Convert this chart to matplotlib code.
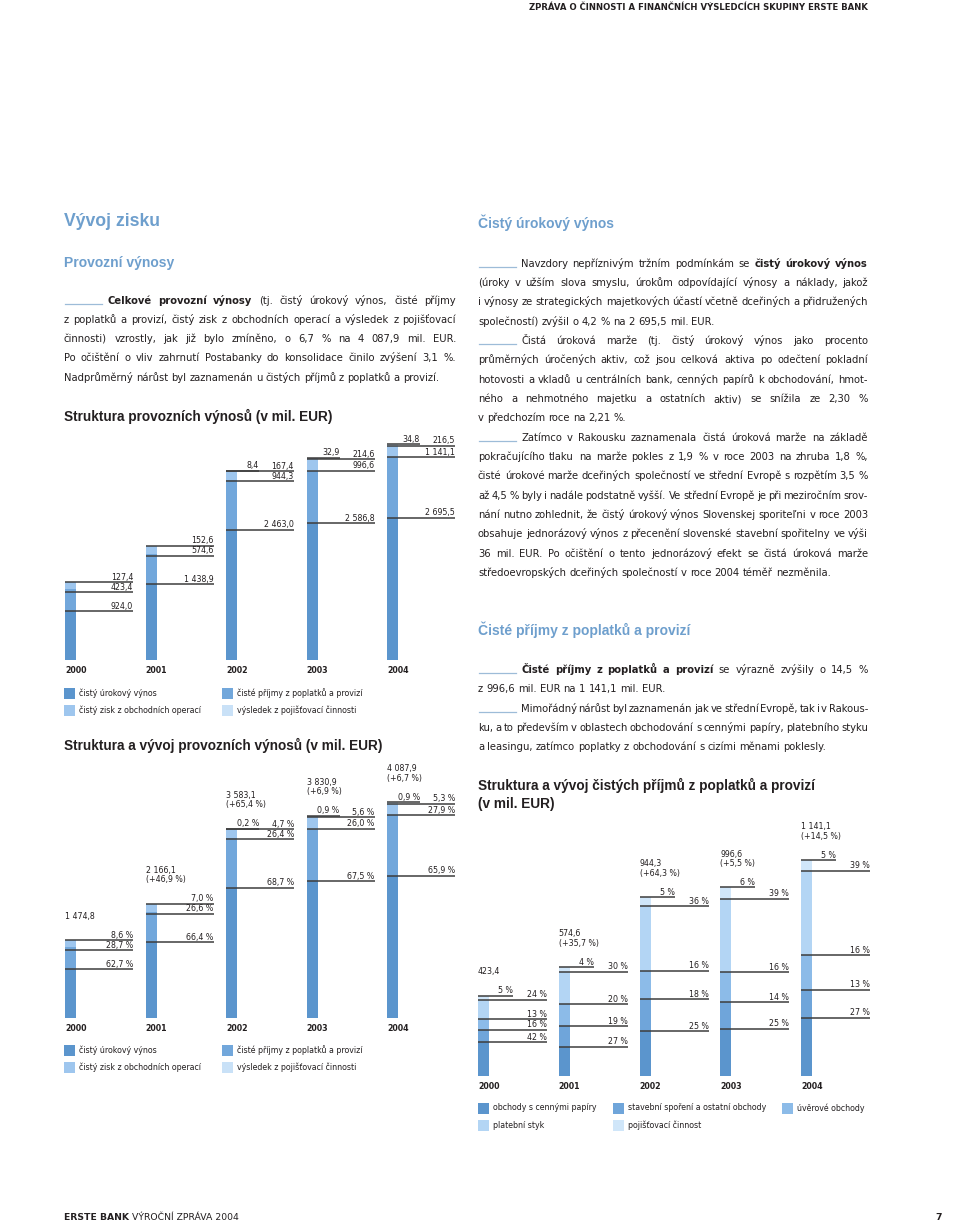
import matplotlib
matplotlib.use('Agg')
import matplotlib.pyplot as plt
from matplotlib import font_manager
from matplotlib.lines import Line2D
from matplotlib.patches import Rectangle

# --- data -------------------------------------------------------------
years = ['2000', '2001', '2002', '2003', '2004']

# Struktura provozních výnosů (mil. EUR)
interest = [924.0, 1438.9, 2463.0, 2586.8, 2695.5]
fees = [423.4, 574.6, 944.3, 996.6, 1141.1]
trading = [127.4, 152.6, 167.4, 214.6, 216.5]
insurance = [0.0, 0.0, 8.4, 32.9, 34.8]
totals = [1474.8, 2166.1, 3583.1, 3830.9, 4087.9]
growth = [None, 46.9, 65.4, 6.9, 6.7]

# shares in %
pct_int = [62.7, 66.4, 68.7, 67.5, 65.9]
pct_fee = [28.7, 26.6, 26.4, 26.0, 27.9]
pct_trd = [8.6, 7.0, 4.7, 5.6, 5.3]
pct_ins = [None, None, 0.2, 0.9, 0.9]

# fee income structure
fee_totals = [423.4, 574.6, 944.3, 996.6, 1141.1]
fee_growth = [None, 35.7, 64.3, 5.5, 14.5]
p_sec = [42, 27, 25, 25, 27]
p_bld = [16, 19, 18, 14, 13]
p_loan = [13, 20, 16, 16, 16]
p_pay = [24, 30, 36, 39, 39]
p_ins = [5, 4, 5, 6, 5]

# --- setup ------------------------------------------------------------
W, H = 960, 1223
fig = plt.figure(figsize=(9.6, 12.23), dpi=100)
r = fig.canvas.get_renderer()

names = {f.name for f in font_manager.fontManager.ttflist}
BODY = 'Liberation Sans Narrow' if 'Liberation Sans Narrow' in names else 'DejaVu Sans'
HEAD = 'Liberation Sans'
INK = '#231f20'
BLUE = '#6e9fcd'
LINE = '#3d3d3d'
RULE = '#9dbcd8'

C1 = '#5b95cd'
C2 = '#72a7db'
C3 = '#9ec6ee'
C4 = '#c9e1f7'
F1, F2, F3, F4, F5 = '#5b95cd', '#6fa5da', '#8cbbe8', '#b3d5f4', '#d0e6f9'


def fx(x):
    return x / W


def fy(y):
    return 1 - y / H


def width(s, size, weight='normal', family=BODY):
    t = fig.text(0, 0, s, fontsize=size, fontweight=weight, family=family)
    w = t.get_window_extent(r).width
    t.remove()
    return w


def fit(s, target, weight='normal', family=BODY):
    return 10 * target / width(s, 10, weight, family)


def cz(v):
    return f'{v:,.1f}'.replace(',', ' ').replace('.', ',')


def pc(v):
    return f'{v:.1f} %'.replace('.', ',')


BS = fit('Nadprůměrný nárůst byl zaznamenán u čistých příjmů z poplatků a provizí.', 377)
LS = fit('čistý zisk z obchodních operací', 122.7)
SPACE = width('n n', BS) - width('nn', BS)


def jline(x0, x1, yc, s, justify=True):
    toks = []
    for k, part in enumerate(s.split('**')):
        for w in part.split():
            toks.append((w, k % 2 == 1))
    arts, ws = [], []
    for w, b in toks:
        t = fig.text(0, fy(yc + 4), w, fontsize=BS, family=BODY, color=INK,
                     fontweight='bold' if b else 'normal', va='baseline', ha='left')
        arts.append(t)
        ws.append(t.get_window_extent(r).width)
    gap = SPACE
    if justify and len(toks) > 1:
        gap = (x1 - x0 - sum(ws)) / (len(toks) - 1)
    x = x0
    for t, w in zip(arts, ws):
        t.set_x(fx(x))
        x += w + gap


def para(x0, x1, y0, paragraphs):
    y = y0
    for lines in paragraphs:
        for k, s in enumerate(lines):
            start = x0
            if k == 0:
                fig.add_artist(Line2D([fx(x0 + 1), fx(x0 + 38)], [fy(y + 4), fy(y + 4)],
                                      color=RULE, lw=0.9))
                start = x0 + 43
            jline(start, x1, y, s, justify=k < len(lines) - 1)
            y += 19.33


# --- page text ----------------------------------------------------------
hs = fit('ZPRÁVA O ČINNOSTI A FINANČNÍCH VÝSLEDCÍCH SKUPINY ERSTE BANK', 340, 'bold')
fig.text(fx(868), fy(8), 'ZPRÁVA O ČINNOSTI A FINANČNÍCH VÝSLEDCÍCH SKUPINY ERSTE BANK',
         fontsize=hs, family=BODY, fontweight='bold', ha='right', va='center', color=INK)

h1 = fit('Vývoj zisku', 96, 'bold', HEAD)
fig.text(fx(64), fy(222), 'Vývoj zisku', fontsize=h1, family=HEAD, fontweight='bold',
         color=BLUE, va='center')
h2 = fit('Čisté příjmy z poplatků a provizí', 212, 'bold', HEAD)
for x, y, s in [(64, 263, 'Provozní výnosy'), (478, 223, 'Čistý úrokový výnos'),
                (478, 630, 'Čisté příjmy z poplatků a provizí')]:
    fig.text(fx(x), fy(y), s, fontsize=h2, family=HEAD, fontweight='bold', color=BLUE, va='center')

ts = fit('Struktura provozních výnosů (v mil. EUR)', 269, 'bold', HEAD)
for x, y, s in [(64, 416, 'Struktura provozních výnosů (v mil. EUR)'),
                (64, 745, 'Struktura a vývoj provozních výnosů (v mil. EUR)'),
                (478, 785, 'Struktura a vývoj čistých příjmů z poplatků a provizí'),
                (478, 804, '(v mil. EUR)')]:
    fig.text(fx(x), fy(y), s, fontsize=ts, family=HEAD, fontweight='bold', color=INK, va='center')

para(64, 456, 299.5, [[
    '**Celkové provozní výnosy** (tj. čistý úrokový výnos, čisté příjmy',
    'z poplatků a provizí, čistý zisk z obchodních operací a výsledek z pojišťovací',
    'činnosti) vzrostly, jak již bylo zmíněno, o 6,7 % na 4 087,9 mil. EUR.',
    'Po očištění o vliv zahrnutí Postabanky do konsolidace činilo zvýšení 3,1 %.',
    'Nadprůměrný nárůst byl zaznamenán u čistých příjmů z poplatků a provizí.']])

para(478, 868, 262.7, [
    ['Navzdory nepříznivým tržním podmínkám se **čistý úrokový výnos**',
     '(úroky v užším slova smyslu, úrokům odpovídající výnosy a náklady, jakož',
     'i výnosy ze strategických majetkových účastí včetně dceřiných a přidružených',
     'společností) zvýšil o 4,2 % na 2 695,5 mil. EUR.'],
    ['Čistá úroková marže (tj. čistý úrokový výnos jako procento',
     'průměrných úročených aktiv, což jsou celková aktiva po odečtení pokladní',
     'hotovosti a vkladů u centrálních bank, cenných papírů k obchodování, hmot-',
     'ného a nehmotného majetku a ostatních aktiv) se snížila ze 2,30 %',
     'v předchozím roce na 2,21 %.'],
    ['Zatímco v Rakousku zaznamenala čistá úroková marže na základě',
     'pokračujícího tlaku na marže pokles z 1,9 % v roce 2003 na zhruba 1,8 %,',
     'čisté úrokové marže dceřiných společností ve střední Evropě s rozpětím 3,5 %',
     'až 4,5 % byly i nadále podstatně vyšší. Ve střední Evropě je při meziročním srov-',
     'nání nutno zohlednit, že čistý úrokový výnos Slovenskej sporiteľni v roce 2003',
     'obsahuje jednorázový výnos z přecenění slovenské stavební spořitelny ve výši',
     '36 mil. EUR. Po očištění o tento jednorázový efekt se čistá úroková marže',
     'středoevropských dceřiných společností v roce 2004 téměř nezměnila.']])

para(478, 868, 669, [
    ['**Čisté příjmy z poplatků a provizí** se výrazně zvýšily o 14,5 %',
     'z 996,6 mil. EUR na 1 141,1 mil. EUR.'],
    ['Mimořádný nárůst byl zaznamenán jak ve střední Evropě, tak i v Rakous-',
     'ku, a to především v oblastech obchodování s cennými papíry, platebního styku',
     'a leasingu, zatímco poplatky z obchodování s cizími měnami poklesly.']])

fs = fit('ERSTE BANK VÝROČNÍ ZPRÁVA 2004', 168)
t = fig.text(fx(64), fy(1217), 'ERSTE BANK', fontsize=fs, family=BODY, fontweight='bold',
             color=INK, va='center')
wb = t.get_window_extent(r).width
fig.text(fx(64 + wb + SPACE * fs / BS), fy(1217), 'VÝROČNÍ ZPRÁVA 2004', fontsize=fs,
         family=BODY, color=INK, va='center')
fig.text(fx(942), fy(1217), '7', fontsize=fs, family=BODY, fontweight='bold', color=INK,
         ha='right', va='center')


# --- charts -------------------------------------------------------------
def stack(box, c0, step, top_px, top_val, series, colors, labels, long_px, short_px,
          tot=None, grow=None):
    left, top, right, bottom = box
    scale = top_px / top_val
    ax = fig.add_axes([fx(left), fy(bottom), (right - left) / W, (bottom - top) / H])
    ax.set_xlim((left - c0) / step, (right - c0) / step)
    ax.set_ylim(0, (bottom - top) / scale)
    ax.axis('off')
    bw = 11 / step
    Lg, Ls = long_px / step, short_px / step
    gap = 10 / scale
    for i in range(len(years)):
        x0 = i - bw / 2
        base, tops = 0, []
        for vals, col in zip(series, colors):
            ax.bar(x0, vals[i], bw, bottom=base, align='edge', color=col, lw=0)
            base += vals[i]
            tops.append(base)
        ys = tops[:-1]
        for k in range(len(ys) - 2, -1, -1):
            ys[k] = min(ys[k], ys[k + 1] - gap)
        for k, yv in enumerate(ys):
            ax.hlines(yv, x0, x0 + Lg, color=LINE, lw=1.1)
            ax.annotate(labels[k][i], (x0 + Lg, yv), xytext=(0, 0.3), textcoords='offset points',
                        ha='right', va='bottom', fontsize=LS, family=BODY, color=INK)
        if series[-1][i] > 0:
            ax.hlines(tops[-1], x0, x0 + Ls, color=LINE, lw=1.1)
            ax.annotate(labels[-1][i], (x0 + Ls, tops[-1]), xytext=(0, 0.3),
                        textcoords='offset points', ha='right', va='bottom', fontsize=LS,
                        family=BODY, color=INK)
        ax.annotate(years[i], (x0, 0), xytext=(0, -7.5), textcoords='offset points',
                    ha='left', va='center', fontsize=LS, family=BODY, fontweight='bold', color=INK)
        if tot is not None:
            s = cz(tot[i]) if grow[i] is None else cz(tot[i]) + '\n(+' + pc(grow[i]) + ')'
            ax.annotate(s, (x0, tops[-1]), xytext=(0, 14), textcoords='offset points',
                        ha='left', va='bottom', fontsize=LS, family=BODY, color=INK,
                        linespacing=1.05)
    return ax


def legend(items):
    for x, y, c, s in items:
        fig.add_artist(Rectangle((fx(x), fy(y + 5.5)), 11 / W, 11 / H, transform=fig.transFigure,
                                 color=c, lw=0))
        fig.text(fx(x + 15), fy(y), s, fontsize=LS, family=BODY, color=INK, va='center')


ser1 = [interest, fees, trading, insurance]
cols1 = [C1, C2, C3, C4]

stack((60, 420, 470, 660), 70.5, 80.5, 216, 4087.9, ser1, cols1,
      [[cz(v) for v in interest], [cz(v) for v in fees], [cz(v) for v in trading],
       [cz(v) if v else '' for v in insurance]], 68, 33)
legend([(64, 693, C1, 'čistý úrokový výnos'), (222, 693, C2, 'čisté příjmy z poplatků a provizí'),
        (64, 710, C3, 'čistý zisk z obchodních operací'), (222, 710, C4, 'výsledek z pojišťovací činnosti')])

stack((60, 760, 470, 1018), 70.5, 80.5, 216, 4087.9, ser1, cols1,
      [[pc(v) for v in pct_int], [pc(v) for v in pct_fee], [pc(v) for v in pct_trd],
       [pc(v) if v else '' for v in pct_ins]], 68, 33, totals, growth)
legend([(64, 1050, C1, 'čistý úrokový výnos'), (222, 1050, C2, 'čisté příjmy z poplatků a provizí'),
        (64, 1067, C3, 'čistý zisk z obchodních operací'), (222, 1067, C4, 'výsledek z pojišťovací činnosti')])

ser3 = [[t * p / 100 for t, p in zip(fee_totals, ps)] for ps in (p_sec, p_bld, p_loan, p_pay, p_ins)]
stack((470, 820, 890, 1076), 483.5, 80.75, 216, 1141.1, ser3, [F1, F2, F3, F4, F5],
      [[f'{p} %' for p in ps] for ps in (p_sec, p_bld, p_loan, p_pay, p_ins)], 69, 35,
      fee_totals, fee_growth)
legend([(478, 1108, F1, 'obchody s cennými papíry'), (613, 1108, F2, 'stavební spoření a ostatní obchody'),
        (782, 1108, F3, 'úvěrové obchody'), (478, 1125, F4, 'platební styk'),
        (613, 1125, F5, 'pojišťovací činnost')])

fig.savefig('out.png', dpi=100)
